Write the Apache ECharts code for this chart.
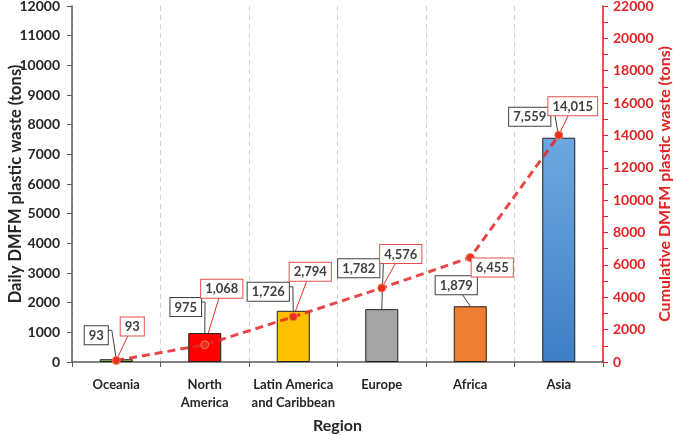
<!DOCTYPE html>
<html>
<head>
<meta charset="utf-8">
<script src="https://cdn.jsdelivr.net/npm/echarts@6/dist/echarts.min.js"></script>
<style>html,body{margin:0;padding:0;background:#fff}#c{width:678px;height:435px}</style>
</head>
<body>
<div id="c"></div>
<script>
var categories = ['Oceania', 'North\nAmerica', 'Latin America\nand Caribbean', 'Europe', 'Africa', 'Asia'];
var dailyWaste = [93, 975, 1726, 1782, 1879, 7559];
var cumulativeWaste = [93, 1068, 2794, 4576, 6455, 14015];
var barColors = ['#92d050', '#ff0000', '#ffc000', '#a5a5a5', '#ed7d31', 'asia'];
var leftTicks = { min: 0, max: 12000, interval: 1000 };
var rightTicks = { min: 0, max: 22000, interval: 2000 };

// label offsets (label centre relative to bar top-centre / point centre)
var barLabelOffsets = [[-20, -24], [-19, -26], [-25, -19], [-23, -41], [-14, -21], [-29, -21]];
var lineLabelOffsets = [[16, -34], [17, -56], [17, -45], [19, -34], [22, 10], [14, -29]];

var FONT = 'Lato';
var RED = '#e32222';
var DARK = '#404040';
var LBL_FONT = 13;
var LBL_PAD = [3, 4, 2, 4];
var LBL_LH = 13;

var measureCtx = document.createElement('canvas').getContext('2d');
function labelSize(text) {
  measureCtx.font = 'bold ' + LBL_FONT + 'px ' + FONT;
  return {
    w: measureCtx.measureText(text).width + LBL_PAD[1] + LBL_PAD[3],
    h: LBL_LH + LBL_PAD[0] + LBL_PAD[2]
  };
}
function fmt(v) { return Number(v).toLocaleString('en-US'); }

var chart = echarts.init(document.getElementById('c'));

function barColor(i) {
  if (barColors[i] === 'asia') {
    return new echarts.graphic.LinearGradient(0, 0, 0, 1, [
      { offset: 0, color: '#6ea7df' },
      { offset: 1, color: '#3f7fc5' }
    ]);
  }
  return barColors[i];
}

var barData = dailyWaste.map(function (v, i) {
  return { value: v, itemStyle: { color: barColor(i) } };
});

function plain(v) { return String(v); }

function leaderRenderer(offsets, elbow, color) {
  return function (params, api) {
    var i = api.value(0);
    var v = api.value(1);
    var a = api.coord([i, v]);
    var o = offsets[i];
    var cx = a[0] + o[0], cy = a[1] + o[1];
    var s = labelSize(fmt(v));
    var right = cx + s.w / 2, top = cy - s.h / 2;
    var pts;
    if (elbow && a[0] > right + 2) {
      pts = [[cx, top + 4], [right + 4, top + 4], [a[0], a[1]]];
    } else {
      pts = [[cx, cy], [a[0], a[1]]];
    }
    return {
      type: 'polyline',
      shape: { points: pts },
      style: { stroke: color, lineWidth: 1, fill: null }
    };
  };
}

var labelCommon = {
  show: true,
  position: 'top',
  formatter: function (p) { return fmt(p.value); },
  fontFamily: FONT, fontWeight: 'bold', fontSize: LBL_FONT, lineHeight: LBL_LH, color: DARK,
  backgroundColor: '#fff', borderWidth: 1,
  padding: LBL_PAD
};

function layoutFn(offsets, centerY) {
  return function (p) {
    var o = offsets[p.dataIndex];
    var tx = p.rect.x + p.rect.width / 2 + o[0];
    var ty = p.rect.y + (centerY ? p.rect.height / 2 : 0) + o[1];
    return {
      dx: tx - (p.labelRect.x + p.labelRect.width / 2),
      dy: ty - (p.labelRect.y + p.labelRect.height / 2)
    };
  };
}

chart.setOption({
  animation: false,
  backgroundColor: '#fff',
  textStyle: { fontFamily: FONT },
  grid: { left: 72, right: 75, top: 6, bottom: 73, outerBoundsMode: 'none' },
  xAxis: {
    type: 'category',
    data: categories,
    name: 'Region',
    nameLocation: 'middle',
    nameGap: 56,
    nameTextStyle: { fontFamily: FONT, fontWeight: 'bold', fontSize: 16, color: '#262626' },
    axisLine: { lineStyle: { color: '#595959', width: 1.5 } },
    axisTick: { show: true, alignWithLabel: false, length: 5, lineStyle: { color: '#595959' } },
    axisLabel: { fontFamily: FONT, fontWeight: 'bold', fontSize: 13, color: '#262626', lineHeight: 18, margin: 14, interval: 0 },
    splitLine: { show: true, lineStyle: { color: '#d0d0d0', type: [5, 4], width: 1 } }
  },
  yAxis: [
    {
      type: 'value',
      min: leftTicks.min, max: leftTicks.max, interval: leftTicks.interval,
      name: 'Daily DMFM plastic waste (tons)',
      nameLocation: 'middle',
      nameGap: 48,
      nameMoveOverlap: false,
      nameTextStyle: { fontFamily: FONT, fontWeight: 'bold', fontSize: 16.5, color: '#262626' },
      axisLine: { show: true, lineStyle: { color: '#595959', width: 1.5 } },
      axisTick: { show: true, length: 5, lineStyle: { color: '#595959' } },
      axisLabel: { fontFamily: FONT, fontWeight: 'bold', fontSize: 14, color: '#262626', margin: 12, formatter: plain },
      splitLine: { show: false }
    },
    {
      type: 'value',
      position: 'right',
      min: rightTicks.min, max: rightTicks.max, interval: rightTicks.interval,
      name: 'Cumulative DMFM plastic waste (tons)',
      nameLocation: 'middle',
      nameRotate: 90,
      nameGap: 54,
      nameMoveOverlap: false,
      nameTextStyle: { fontFamily: FONT, fontWeight: 'bold', fontSize: 16, color: RED },
      axisLine: { show: true, lineStyle: { color: RED, width: 1.5 } },
      axisTick: { show: true, length: 5, lineStyle: { color: RED } },
      minorTick: { show: true, splitNumber: 2, length: 5, lineStyle: { color: RED } },
      axisLabel: { fontFamily: FONT, fontWeight: 'bold', fontSize: 14, color: RED, margin: 10, formatter: plain },
      splitLine: { show: false }
    }
  ],
  series: [
    {
      type: 'custom',
      yAxisIndex: 0,
      data: dailyWaste.map(function (v, i) { return [i, v]; }),
      encode: { x: 0, y: 1 },
      renderItem: leaderRenderer(barLabelOffsets, true, '#404040')
    },
    {
      type: 'bar',
      yAxisIndex: 0,
      barWidth: 33,
      data: barData,
      itemStyle: { borderColor: '#1f1f1f', borderWidth: 1 },
      label: Object.assign({}, labelCommon, { borderColor: DARK }),
      labelLayout: layoutFn(barLabelOffsets, false)
    },
    {
      type: 'custom',
      yAxisIndex: 1,
      data: cumulativeWaste.map(function (v, i) { return [i, v]; }),
      encode: { x: 0, y: 1 },
      renderItem: leaderRenderer(lineLabelOffsets, false, '#e03030')
    },
    {
      type: 'line',
      yAxisIndex: 1,
      data: cumulativeWaste,
      symbol: 'circle',
      symbolSize: 8,
      showSymbol: true,
      lineStyle: { color: 'rgba(226,40,40,0.85)', width: 3, type: [8, 5] },
      itemStyle: { color: '#e8301f', borderColor: '#ff7a50', borderWidth: 1 },
      label: Object.assign({}, labelCommon, { borderColor: '#e05050' }),
      labelLayout: layoutFn(lineLabelOffsets, true)
    }
  ]
});
</script>
</body>
</html>
